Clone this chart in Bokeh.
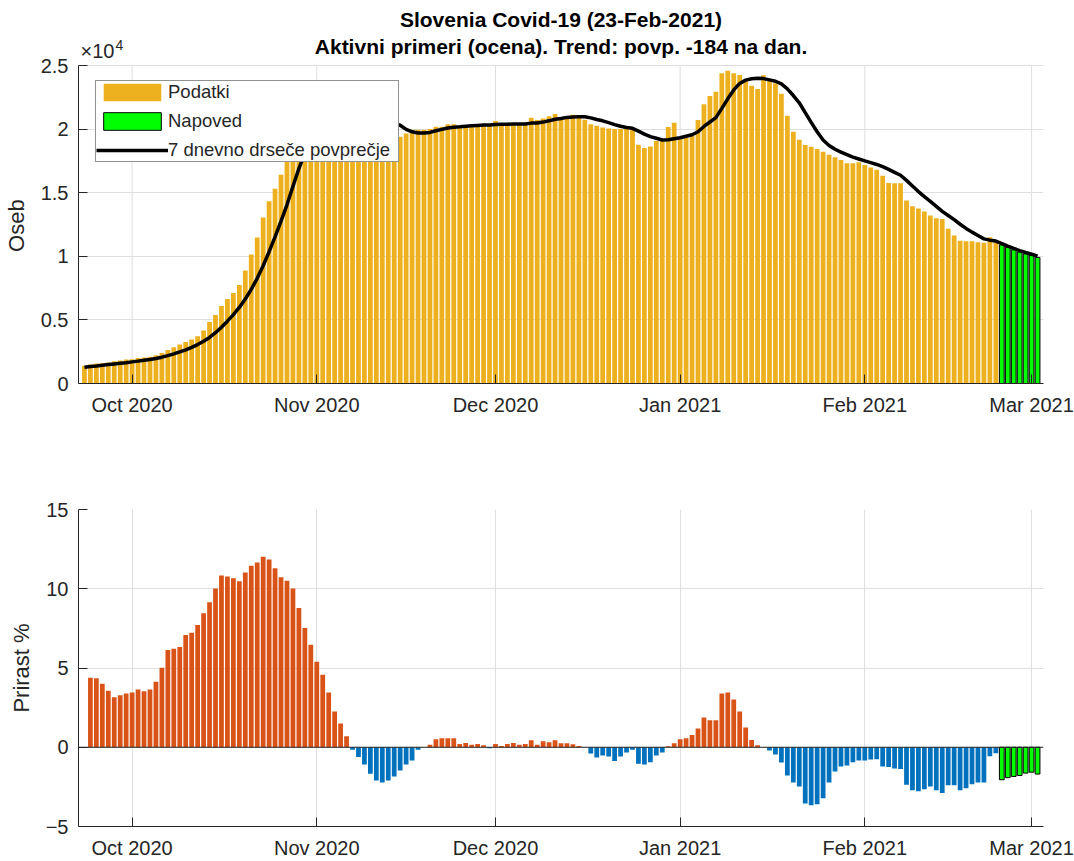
import pandas as pd
from bokeh.plotting import figure
from bokeh.layouts import column
from bokeh.models import (ColumnDataSource, Range1d, FixedTicker, DatetimeTickFormatter,
                          Label, Span, Legend, LegendItem)
from bokeh.embed import file_html
from bokeh.resources import INLINE

# ---------------- data ----------------
data_start = "2020-09-23"
growth_start = "2020-09-24"
forecast_start = "2021-02-24"
x_start, x_end = "2020-09-22", "2021-03-03"
month_ticks = ["2020-10-01", "2020-11-01", "2020-12-01", "2021-01-01", "2021-02-01", "2021-03-01"]
month_labels = ["Oct 2020", "Nov 2020", "Dec 2020", "Jan 2021", "Feb 2021", "Mar 2021"]

title1 = "Slovenia Covid-19 (23-Feb-2021)"
title2 = "Aktivni primeri (ocena). Trend: povp. -184 na dan."
ylabel_top = "Oseb"
ylabel_bottom = "Prirast %"

# active cases (Podatki), one per day from 23-Sep-2020 to 23-Feb-2021
active = [
    1390, 1490, 1570, 1600, 1650, 1750, 1800, 1880, 1900, 2000,
    2050, 2100, 2220, 2400, 2640, 2850, 3060, 3270, 3450, 3710,
    4160, 4840, 5390, 6090, 6640, 7110, 7740, 8890, 10140, 11480,
    13050, 14330, 15320, 16420,
    17800, 19600, 20800, 21800, 22500, 23000, 23300, 23400, 23300, 23100,
    22800, 22500, 22200, 21800, 21200, 20600, 20000, 19600, 19300,
    19400, 19660, 19950, 19950, 19950, 20000, 20180, 20180, 20390, 20390,
    20180, 20260, 20260, 20390, 20390, 20390, 20630, 20390, 20310, 20310,
    20390, 20390, 20890, 20710, 20840, 21020, 21180, 20840, 20970, 21120,
    20920, 20730, 20390, 20260, 20130, 20050, 20000, 20000, 20000, 19950,
    18770, 18510, 18640, 19060, 19060, 20160, 20500, 19320, 19320, 19480,
    20710, 21960, 22610, 22930, 24390, 24580, 24390, 24260, 23790, 23400,
    23160, 24240, 23870, 23610, 22770, 21050, 19790, 19160, 18750, 18610,
    18430, 18220, 17990, 17780, 17570, 17310, 17310, 17390, 17180, 16990,
    16810, 16340, 15760, 15740, 15740, 14380, 13930, 13750, 13520, 13200,
    12990, 12940, 12160, 11630, 11220, 11190, 11190, 11110, 11060, 11500,
    11110,
]
# forecast (Napoved), 24-Feb-2021 .. 2-Mar-2021
forecast = [10900, 10690, 10510, 10330, 10200, 10070, 9910]

# 7-day moving average (7 dnevno drsece povprecje), 23-Sep-2020 .. 2-Mar-2021
trend = [
    1270, 1330, 1380, 1440, 1490, 1540, 1590, 1640, 1700, 1760,
    1820, 1890, 1970, 2070, 2190, 2330, 2480, 2650, 2840, 3060,
    3320, 3620, 3990, 4420, 4900, 5420, 5980, 6640, 7400, 8270,
    9260, 10360, 11530, 12760, 14050,
    15500, 16900, 18100, 19300, 20300, 21200, 22000, 22500, 22800, 23000,
    23000, 22800, 22600, 22200, 21700, 21200, 20800, 20450,
    20300, 19980, 19790, 19690, 19690, 19740, 19870, 19980, 20090, 20150,
    20180, 20230, 20260, 20290, 20320, 20320, 20360, 20390, 20390, 20400,
    20400, 20400, 20470, 20480, 20550, 20650, 20770, 20840, 20920, 20950,
    20980, 20970, 20880, 20750, 20650, 20510, 20350, 20220, 20120, 20060,
    19840, 19610, 19410, 19280, 19140, 19160, 19240, 19320, 19440, 19560,
    19790, 20210, 20560, 20900, 21630, 22380, 23080, 23590, 23850, 23960,
    24000, 23970, 23870, 23760, 23550, 23160, 22640, 22070, 21290, 20530,
    19790, 19140, 18710, 18420, 18190, 17990, 17800, 17650, 17500, 17360,
    17220, 17050, 16830, 16600, 16370, 15970, 15530, 15090, 14690, 14320,
    13930, 13530, 13210, 12880, 12520, 12190, 11900, 11630, 11370, 11270,
    11200,
    11000, 10800, 10620, 10450, 10300, 10160, 10010,
]

# daily growth of the trend in % (Prirast %), 24-Sep-2020 .. 23-Feb-2021
growth = [
    4.39, 4.35, 4.01, 3.57, 3.16, 3.28, 3.39, 3.45, 3.64, 3.53,
    3.64, 4.14, 5.02, 6.14, 6.21, 6.33, 7.08, 7.23, 7.71, 8.46,
    9.15, 10.01, 10.83, 10.78, 10.66, 10.47, 11.03, 11.45, 11.66, 12.02,
    11.85, 11.29, 10.72, 10.51, 10.01, 8.78, 7.52, 6.46, 5.39, 4.58,
    3.45, 2.26, 1.50, 0.69,
    -0.15, -0.61, -1.09, -1.67, -2.09, -2.22, -2.09, -1.84, -1.46, -1.09,
    -0.84, -0.15, 0.0,
    0.15, 0.50, 0.56, 0.56, 0.56, 0.21, 0.27, 0.15, 0.21, 0.13,
    -0.06, 0.21, 0.08, 0.21, 0.27, 0.15, 0.21, 0.44, 0.15, 0.38,
    0.31, 0.44, 0.25, 0.25, 0.19, 0.08, 0.0, -0.40, -0.65, -0.52,
    -0.59, -0.86, -0.59, -0.33, -0.15, -1.04, -1.09, -0.94, -0.52, -0.33,
    0.06, 0.25, 0.50, 0.56, 0.77, 1.19, 1.88, 1.71, 1.71, 3.39,
    3.45, 3.01, 2.26, 1.25, 0.46, 0.13, 0.0, -0.21, -0.46, -0.96,
    -1.78, -2.22, -2.47, -3.55, -3.66, -3.59, -3.22, -2.22, -1.53, -1.21,
    -1.15, -0.94, -0.84, -0.84, -0.77, -0.75, -1.21, -1.25, -1.34, -1.38,
    -2.36, -2.72, -2.78, -2.65, -2.47, -2.72, -2.88, -2.40, -2.40, -2.72,
    -2.59, -2.34, -2.22, -2.22, -0.56, -0.38,
]
growth_forecast = [-2.05, -1.92, -1.84, -1.78, -1.63, -1.57, -1.69]

top_ticks = [0, 5000, 10000, 15000, 20000, 25000]
top_tick_labels = ["0", "0.5", "1", "1.5", "2", "2.5"]
bottom_ticks = [-5, 0, 5, 10, 15]

# ---------------- styling ----------------
FONT = "Liberation Sans"
TXT = "#262626"
GRID = "#dfdfdf"
C_DATA = "#EDB120"
C_FC = "#00FF00"
C_POS = "#D95319"
C_NEG = "#0072BD"
DAY = 86400000.0
NBSP = "\u00a0"

W = 1074
TOP_H, TOP_FRAME, TOP_BOX = 445, 383, 318      # frame reaches canvas top; axes box is lower 318 px
BOT_H, BOT_TOP, BOT_FRAME = 416, 64, 318


def ms(s):
    return pd.Timestamp(s).value / 1e6


data_dates = list(pd.date_range(data_start, periods=len(active), freq="D"))
fc_dates = list(pd.date_range(forecast_start, periods=len(forecast), freq="D"))
trend_dates = list(pd.date_range(data_start, periods=len(trend), freq="D"))
growth_dates = list(pd.date_range(growth_start, periods=len(growth), freq="D"))


def make_fig(height, top, bottom, y0, y1, yticks):
    p = figure(width=W, height=height, x_axis_type="datetime", title=None,
               x_range=Range1d(ms(x_start), ms(x_end)), y_range=Range1d(y0, y1),
               output_backend="svg", toolbar_location=None,
               min_border_left=78, min_border_right=31,
               min_border_top=top, min_border_bottom=bottom)
    p.outline_line_color = None
    p.background_fill_color = "white"
    p.border_fill_color = "white"
    xt = FixedTicker(ticks=[ms(t) for t in month_ticks])
    p.xaxis.ticker = xt
    p.xgrid.ticker = xt
    p.xaxis.formatter = DatetimeTickFormatter(days="%b %Y", months="%b %Y", years="%b %Y")
    p.xaxis.major_label_overrides = {ms(t): l for t, l in zip(month_ticks, month_labels)}
    yt = FixedTicker(ticks=yticks)
    p.yaxis.ticker = yt
    p.ygrid.ticker = yt
    for ax in (p.xaxis[0], p.yaxis[0]):
        ax.axis_line_color = TXT
        ax.axis_line_width = 1
        ax.major_tick_line_color = TXT
        ax.major_tick_in = 9
        ax.major_tick_out = 0
        ax.minor_tick_line_color = None
        ax.major_label_text_font = FONT
        ax.major_label_text_font_size = "20px"
        ax.major_label_text_color = TXT
        ax.major_label_standoff = 10
        ax.axis_label_text_font = FONT
        ax.axis_label_text_font_size = "22px"
        ax.axis_label_text_font_style = "normal"
        ax.axis_label_text_color = TXT
        ax.axis_label_standoff = 9
    for g in (p.xgrid[0], p.ygrid[0]):
        g.grid_line_color = GRID
        g.grid_line_width = 1
    return p


# ---------------- top panel ----------------
y_top_end = 25000 * TOP_FRAME / TOP_BOX
p1 = make_fig(TOP_H, 0, TOP_H - TOP_FRAME, 0, y_top_end, top_ticks)
p1.yaxis.major_label_overrides = {t: l for t, l in zip(top_ticks, top_tick_labels)}
# trailing no-break spaces keep the label centred on the 0..2.5 axis box, not on the taller frame
p1.yaxis.axis_label = ylabel_top + NBSP * 11
p1.yaxis.bounds = (0, 25000)
p1.xgrid.grid_line_color = None

# vertical grid lines limited to the axes box
month_ms = [ms(t) for t in month_ticks]
p1.segment(x0=month_ms, y0=[0] * len(month_ms), x1=month_ms, y1=[25000] * len(month_ms),
           line_color=GRID, line_width=1)

src_a = ColumnDataSource(dict(date=data_dates, value=active))
r_a = p1.vbar(x="date", top="value", width=0.8 * DAY, source=src_a,
              fill_color=C_DATA, line_color=None)
src_f = ColumnDataSource(dict(date=fc_dates, value=forecast))
r_f = p1.vbar(x="date", top="value", width=0.8 * DAY, source=src_f,
              fill_color=C_FC, line_color="black", line_width=1)
src_t = ColumnDataSource(dict(date=trend_dates, value=trend))
r_t = p1.line(x="date", y="value", source=src_t, line_color="black", line_width=3.5)

legend = Legend(items=[LegendItem(label="Podatki", renderers=[r_a]),
                       LegendItem(label="Napoved", renderers=[r_f]),
                       LegendItem(label="7 dnevno drseče povprečje", renderers=[r_t])],
                location=(17, TOP_FRAME - 162), padding=0, spacing=7,
                glyph_width=72, glyph_height=22, label_height=22, label_width=230,
                label_standoff=0, label_text_font=FONT, label_text_font_size="18.5px",
                label_text_color=TXT, border_line_color=TXT, border_line_width=1,
                background_fill_color="white", background_fill_alpha=1.0)
p1.add_layout(legend)

x_mid = (ms(x_start) + ms(x_end)) / 2
p1.add_layout(Label(x=x_mid, y=25000, y_offset=46, text=title1, text_align="center",
                    text_baseline="middle", text_font=FONT, text_font_size="21px",
                    text_font_style="bold", text_color="black"))
p1.add_layout(Label(x=x_mid, y=25000, y_offset=19, text=title2, text_align="center",
                    text_baseline="middle", text_font=FONT, text_font_size="21px",
                    text_font_style="bold", text_color="black"))
p1.add_layout(Label(x=ms(x_start), y=25000, x_offset=2, y_offset=15, text="×10",
                    text_align="left", text_baseline="middle", text_font=FONT,
                    text_font_size="20px", text_color=TXT))
p1.add_layout(Label(x=ms(x_start), y=25000, x_offset=37, y_offset=21, text="4",
                    text_align="left", text_baseline="middle", text_font=FONT,
                    text_font_size="14px", text_color=TXT))

# ---------------- bottom panel ----------------
p2 = make_fig(BOT_H, BOT_TOP, BOT_H - BOT_TOP - BOT_FRAME, -5, 15, bottom_ticks)
p2.yaxis.axis_label = ylabel_bottom

g_colors = [C_POS if v >= 0 else C_NEG for v in growth]
src_g = ColumnDataSource(dict(date=growth_dates, value=growth, color=g_colors))
p2.vbar(x="date", top="value", bottom=0, width=0.8 * DAY, source=src_g,
        fill_color="color", line_color=None)
src_gf = ColumnDataSource(dict(date=fc_dates, value=growth_forecast))
p2.vbar(x="date", top="value", bottom=0, width=0.8 * DAY, source=src_gf,
        fill_color=C_FC, line_color="black", line_width=1)
p2.add_layout(Span(location=0, dimension="width", line_color=TXT, line_width=1))

layout = column(p1, p2)
open("out.html", "w").write(file_html(layout, INLINE))
